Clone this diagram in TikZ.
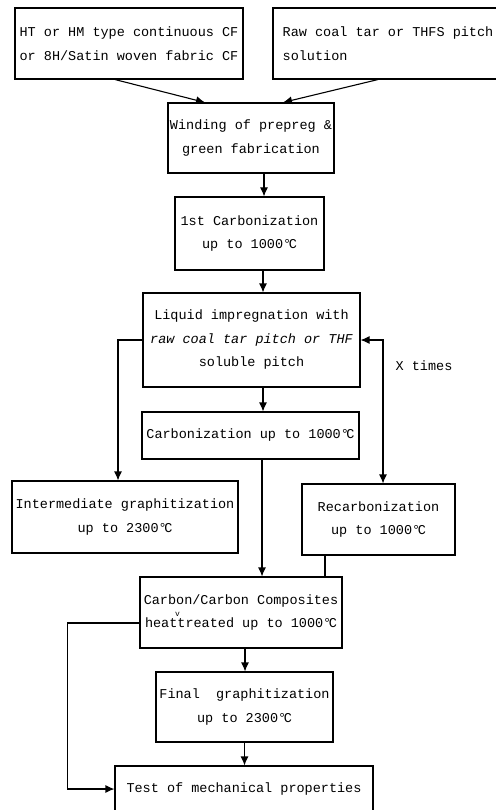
\documentclass[tikz,border=0pt]{standalone}
\usepackage{fontspec}
\setmonofont{Liberation Mono}
\usetikzlibrary{arrows.meta}
\newcommand{\degC}{°\kern-2.5pt C}

\begin{document}
\begin{tikzpicture}[x=1pt, y=-1pt, line width=1.1pt, >={Latex[length=9pt,width=8pt]},
    boite/.style={draw, align=center, inner sep=2pt, font=\ttfamily\fontsize{13.5}{23.5}\selectfont}]
    %tikz organigramme C/C
\useasboundingbox (0,0) rectangle (495,810);
    \node[boite, align=left, minimum width=228pt, minimum height=71pt] (fibre) at (129, 43.5) {HT or HM type continuous CF\\or 8H/Satin woven fabric CF};
    \node[boite, align=left, minimum width=230pt, minimum height=71pt] (pitch) at (388, 43.5) {Raw coal tar or THFS pitch\\solution\hspace{144pt}};
    \node[boite, minimum width=166pt, minimum height=70pt] (wind) at (251, 138) {Winding of prepreg \&\\green fabrication};
    \node[boite, minimum width=149pt, minimum height=73pt] (carb1) at (249.5, 233.5) {1st Carbonization\\up to 1000\degC};
    \node[boite, minimum width=217pt, minimum height=94pt] (impreg) at (251.5, 340) {Liquid impregnation with\\{\itshape raw coal tar pitch or THF}\\soluble pitch};
    \node[boite, minimum width=217pt, minimum height=47pt] (carb) at (250.5, 435.5) {Carbonization up to 1000\degC};
    \node[boite, minimum width=226pt, minimum height=72pt] (intgr) at (125, 517) {Intermediate graphitization\\up to 2300\degC};
    \node[boite, minimum width=153pt, minimum height=71pt] (recarb) at (378.5, 519.5) {Recarbonization\\up to 1000\degC};
    \node[boite, minimum width=202pt, minimum height=71pt] (cc) at (241, 612.5) {Carbon/Carbon Composites\\heat\makebox[0pt]{\raisebox{1.6ex}{\footnotesize v}}treated up to 1000\degC};
    \node[boite, minimum width=177pt, minimum height=70pt] (final) at (244.5, 707) {Final~ graphitization\\up to 2300\degC};
    \node[boite, minimum width=258pt, minimum height=46pt] (test) at (244, 789) {Test of mechanical properties};
    \node[font=\ttfamily\fontsize{13.5}{23.5}\selectfont] (xt) at (424, 366) {X times};

            \draw[->] ([xshift=-14pt]fibre.south) -- ([xshift=-46pt]wind.north);
            \draw[->] ([xshift=-10pt]pitch.south) -- ([xshift=32pt]wind.north);
            \draw[->] ([xshift=13pt]wind.south) -- ([xshift=13pt]wind.south |- carb1.north);
            \draw[->] ([xshift=13.5pt]carb1.south) -- ([xshift=13.5pt]carb1.south |- impreg.north);
            \draw[->] ([xshift=11.5pt]impreg.south) -- ([xshift=11.5pt]impreg.south |- carb.north);
            \draw[->] ([xshift=11.5pt]carb.south) -- ([xshift=11.5pt]carb.south |- cc.north);
            \draw[->] (impreg.west) -| ([xshift=-7pt]intgr.north);
            \draw[<->] (impreg.east) -| ([xshift=4.5pt]recarb.north);
            \draw ([xshift=-53.5pt]recarb.south) -- ([xshift=-53.5pt]recarb.south |- cc.north);
            \draw[->] ([yshift=-10.5pt]cc.west) -| ([xshift=-47pt]test.west) -- (test.west);
            \draw[->] ([xshift=4pt]cc.south) -- ([xshift=4pt]cc.south |- final.north);
            \draw[->] (final.south) -- (final.south |- test.north);
  \end{tikzpicture}
\end{document}
